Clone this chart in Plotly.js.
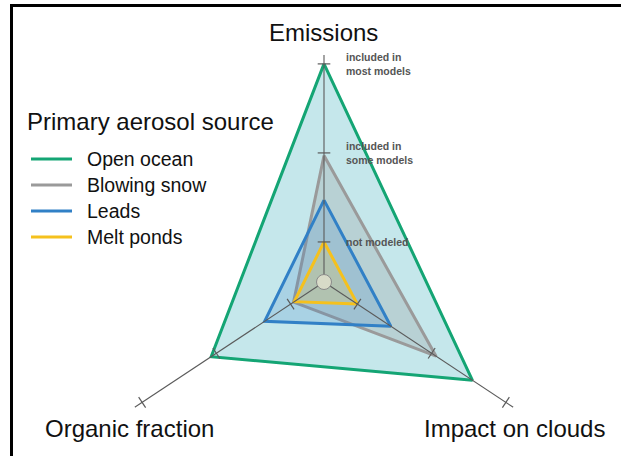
<!DOCTYPE html>
<html>
<head>
<meta charset="utf-8">
<script src="https://cdn.plot.ly/plotly-3.0.1.min.js"></script>
<style>
  html, body { margin: 0; padding: 0; overflow: hidden; background: #fff; }
  #chart { width: 621px; height: 520px; }
</style>
</head>
<body>
<div id="chart"></div>
<script>
// ---------------- data ----------------
const categories = ['Emissions', 'Impact on clouds', 'Organic fraction'];
const sourceNames = ['Open ocean', 'Blowing snow', 'Leads', 'Melt ponds'];
const openOcean   = [3.00, 2.55, 2.07];
const blowingSnow = [1.97, 2.06, 0.96];
const leads       = [1.47, 1.45, 1.35];
const meltPonds   = [1.00, 1.00, 0.95];
const tickValues  = [3, 2, 1];
const tickLabels  = ['included in<br>most models', 'included in<br>some models', 'not modeled'];
const legendTitle = 'Primary aerosol source';

// ---------------- layout constants ----------------
const W = 621, H = 520;
const cx = 324, cy = 282, R = 227;
const rMin = 0.55, rMax = 3.10;
const axisAngle = { 'Emissions': 90, 'Impact on clouds': 326.5, 'Organic fraction': 213.5 };
const colors = ['#14a574', '#9a9a9a', '#3180c6', '#f5c11d'];
const fills  = ['rgba(110,195,205,0.40)', 'rgba(150,150,150,0.27)', 'rgba(60,130,200,0.2)', 'rgba(240,200,60,0.22)'];
const FONT = 'Liberation Sans, Arial, Helvetica, sans-serif';

const px = x => x / W;
const py = y => 1 - y / H;
const thetas = categories.map(c => axisAngle[c]);
const closeLoop = a => a.concat([a[0]]);

const series = [openOcean, blowingSnow, leads, meltPonds];
const traces = [];

series.forEach((vals, i) => {
  traces.push({
    type: 'scatterpolar',
    r: closeLoop(vals),
    theta: closeLoop(thetas),
    mode: 'lines',
    fill: 'toself',
    fillcolor: fills[i],
    line: { color: colors[i], width: 3, shape: 'linear' },
    name: sourceNames[i],
    showlegend: false,
    hoverinfo: 'skip'
  });
});

// spokes (axes) drawn on top
categories.forEach(c => {
  traces.push({
    type: 'scatterpolar',
    r: [rMin, rMax],
    theta: [axisAngle[c], axisAngle[c]],
    mode: 'lines',
    line: { color: '#5a5a5a', width: 1.1 },
    showlegend: false,
    hoverinfo: 'skip'
  });
  // tick marks perpendicular to each spoke
  const a = axisAngle[c];
  const rot = -((a + 90) % 180);
  traces.push({
    type: 'scatterpolar',
    r: tickValues,
    theta: tickValues.map(() => a),
    mode: 'markers',
    marker: { symbol: 'line-ew', size: 9, angle: rot, line: { color: '#5a5a5a', width: 1.2 } },
    showlegend: false,
    hoverinfo: 'skip'
  });
});

const k = R / (rMax - rMin);
const annotations = [];

// emission level labels next to the Emissions axis
tickValues.forEach((v, i) => {
  annotations.push({
    xref: 'paper', yref: 'paper',
    x: px(cx + 20), y: py(cy - (v - rMin) * k),
    xanchor: 'left', yanchor: 'middle', align: 'left',
    text: tickLabels[i], showarrow: false,
    font: { family: FONT, size: 10.5, color: '#555555', weight: 'bold' }
  });
});

// axis titles
annotations.push({ xref: 'paper', yref: 'paper', x: px(323), y: py(32), xanchor: 'center', yanchor: 'middle',
  text: categories[0], showarrow: false, font: { family: FONT, size: 24, color: '#111' } });
annotations.push({ xref: 'paper', yref: 'paper', x: px(514), y: py(428), xanchor: 'center', yanchor: 'middle',
  text: categories[1], showarrow: false, font: { family: FONT, size: 24, color: '#111' } });
annotations.push({ xref: 'paper', yref: 'paper', x: px(129), y: py(428), xanchor: 'center', yanchor: 'middle',
  text: categories[2], showarrow: false, font: { family: FONT, size: 24, color: '#111' } });

// manual legend
annotations.push({ xref: 'paper', yref: 'paper', x: px(25), y: py(121), xanchor: 'left', yanchor: 'middle',
  text: legendTitle, showarrow: false, font: { family: FONT, size: 24, color: '#111' } });

const shapes = [];
sourceNames.forEach((n, i) => {
  const yy = 159 + i * 26;
  shapes.push({ type: 'line', xref: 'paper', yref: 'paper', x0: px(31), x1: px(72), y0: py(yy), y1: py(yy),
    line: { color: colors[i], width: 3 } });
  annotations.push({ xref: 'paper', yref: 'paper', x: px(85), y: py(yy), xanchor: 'left', yanchor: 'middle',
    text: n, showarrow: false, font: { family: FONT, size: 19.5, color: '#111' } });
});

// center circle
shapes.push({ type: 'circle', xref: 'paper', yref: 'paper', xsizemode: 'pixel', ysizemode: 'pixel',
  xanchor: px(cx), yanchor: py(cy), x0: -7.5, x1: 7.5, y0: -7.5, y1: 7.5,
  fillcolor: '#d8dbc8', line: { color: '#8a8a8a', width: 1 } });

// frame (top and left border)
shapes.push({ type: 'line', xref: 'paper', yref: 'paper', x0: px(10), x1: 1, y0: py(5.5), y1: py(5.5),
  line: { color: '#000', width: 3 } });
shapes.push({ type: 'line', xref: 'paper', yref: 'paper', x0: px(11.5), x1: px(11.5), y0: py(4), y1: py(456),
  line: { color: '#000', width: 3 } });

const layout = {
  width: W, height: H,
  margin: { l: 0, r: 0, t: 0, b: 0 },
  paper_bgcolor: '#ffffff',
  showlegend: false,
  polar: {
    domain: { x: [px(cx - R), px(cx + R)], y: [py(cy + R), py(cy - R)] },
    bgcolor: 'rgba(0,0,0,0)',
    gridshape: 'circular',
    radialaxis: { range: [rMin, rMax], showgrid: false, showline: false, showticklabels: false, ticks: '' },
    angularaxis: { type: 'linear', rotation: 0, direction: 'counterclockwise',
      showgrid: false, showline: false, showticklabels: false, ticks: '' }
  },
  annotations: annotations,
  shapes: shapes
};

Plotly.newPlot('chart', traces, layout, { displayModeBar: false, staticPlot: true });
</script>
</body>
</html>
